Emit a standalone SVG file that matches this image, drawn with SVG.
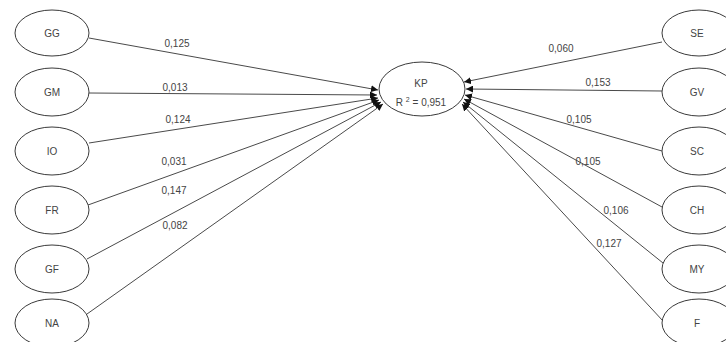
<svg xmlns="http://www.w3.org/2000/svg" width="726" height="342" viewBox="0 0 726 342">
<style>
.n{fill:#fff;stroke:#3a3a3a;stroke-width:1}
.t{font-family:"Liberation Sans",Arial,sans-serif;font-size:10px;fill:#444;text-anchor:middle;dominant-baseline:central}
.e{stroke:#4a4a4a;stroke-width:1;fill:none;marker-end:url(#a)}
</style>
<defs>
<marker id="a" viewBox="0 0 10 10" refX="10" refY="5" markerWidth="7" markerHeight="7" markerUnits="userSpaceOnUse" orient="auto">
<path d="M0,0 L10,5 L0,10 z" fill="#111"/>
</marker>
</defs>
<rect width="726" height="342" fill="#fff"/>
<g id="connectors">
<line class="e" x1="89" y1="38" x2="378" y2="90"/>
<line class="e" x1="89" y1="93" x2="377" y2="95"/>
<line class="e" x1="89" y1="143" x2="378" y2="98"/>
<line class="e" x1="88" y1="205" x2="379" y2="100"/>
<line class="e" x1="87" y1="259" x2="381" y2="102"/>
<line class="e" x1="87" y1="314" x2="383" y2="104"/>
<line class="e" x1="662" y1="42" x2="464" y2="82"/>
<line class="e" x1="662" y1="91" x2="466" y2="89"/>
<line class="e" x1="662" y1="151" x2="465" y2="95"/>
<line class="e" x1="662" y1="207" x2="464" y2="99"/>
<line class="e" x1="663" y1="263" x2="463" y2="102"/>
<line class="e" x1="663" y1="321" x2="462" y2="104"/>
<text class="t" x="177" y="43">0,125</text>
<text class="t" x="175" y="87">0,013</text>
<text class="t" x="178" y="119">0,124</text>
<text class="t" x="174" y="161">0,031</text>
<text class="t" x="174" y="190">0,147</text>
<text class="t" x="175" y="225">0,082</text>
<text class="t" x="561" y="48">0,060</text>
<text class="t" x="598" y="82">0,153</text>
<text class="t" x="579" y="119">0,105</text>
<text class="t" x="588" y="161">0,105</text>
<text class="t" x="616" y="210">0,106</text>
<text class="t" x="609" y="243">0,127</text>
</g>
<g id="KP"><ellipse class="n" cx="422" cy="89" rx="43" ry="27"/><text class="t" x="421" y="83">KP</text><text class="t" x="421" y="102">R <tspan font-size="7" dy="-3">2</tspan><tspan dy="3"> = 0,951</tspan></text></g>
<g id="GG"><ellipse class="n" cx="52" cy="33" rx="37" ry="23"/><text class="t" x="52" y="33">GG</text></g>
<g id="GM"><ellipse class="n" cx="52" cy="92" rx="37" ry="24"/><text class="t" x="52" y="92">GM</text></g>
<g id="IO"><ellipse class="n" cx="52" cy="151" rx="37" ry="24"/><text class="t" x="52" y="151">IO</text></g>
<g id="FR"><ellipse class="n" cx="52" cy="210" rx="37" ry="24"/><text class="t" x="52" y="210">FR</text></g>
<g id="GF"><ellipse class="n" cx="52" cy="269" rx="37" ry="24"/><text class="t" x="52" y="269">GF</text></g>
<g id="NA"><ellipse class="n" cx="52" cy="323" rx="37" ry="24"/><text class="t" x="52" y="323">NA</text></g>
<g id="SE"><ellipse class="n" cx="699" cy="33" rx="37" ry="23"/><text class="t" x="697" y="33">SE</text></g>
<g id="GV"><ellipse class="n" cx="699" cy="92" rx="37" ry="24"/><text class="t" x="697" y="92">GV</text></g>
<g id="SC"><ellipse class="n" cx="699" cy="151" rx="37" ry="24"/><text class="t" x="697" y="151">SC</text></g>
<g id="CH"><ellipse class="n" cx="699" cy="210" rx="37" ry="24"/><text class="t" x="697" y="210">CH</text></g>
<g id="MY"><ellipse class="n" cx="699" cy="269" rx="37" ry="24"/><text class="t" x="697" y="269">MY</text></g>
<g id="F"><ellipse class="n" cx="699" cy="323" rx="37" ry="24"/><text class="t" x="697" y="323">F</text></g>
</svg>
